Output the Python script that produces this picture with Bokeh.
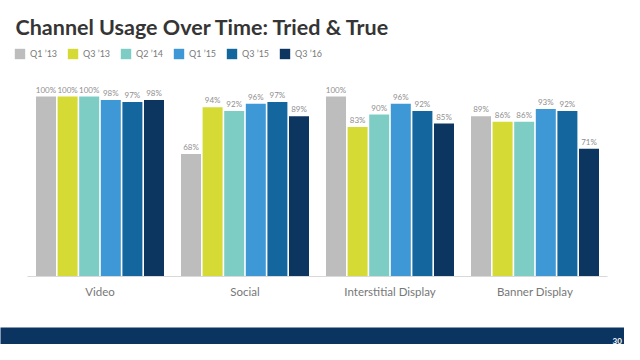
from bokeh.plotting import figure
from bokeh.models import ColumnDataSource, FactorRange, Range1d, Label, Legend, LegendItem
from bokeh.transform import dodge
from bokeh.layouts import column
from bokeh.core.properties import value
from bokeh.embed import file_html
from bokeh.resources import INLINE

# ---------------- data ----------------
categories = ["Video", "Social", "Interstitial Display", "Banner Display"]
quarters = ["Q1 \u201913", "Q3 \u201913", "Q2 \u201914", "Q1 \u201915", "Q3 \u201915", "Q3 \u201916"]
q1_13 = [100, 68, 100, 89]
q3_13 = [100, 94, 83, 86]
q2_14 = [100, 92, 90, 86]
q1_15 = [98, 96, 96, 93]
q3_15 = [97, 97, 92, 92]
q3_16 = [98, 89, 85, 71]
series = [q1_13, q3_13, q2_14, q1_15, q3_15, q3_16]
title_text = "Channel Usage Over Time:  Tried & True"
page_number = "30"

# ---------------- style ----------------
colors = ["#bdbdbd", "#d5da35", "#7ecdc5", "#3f98d6", "#13679e", "#0c3660"]
NAVY = "#0b3560"
FONT = "Lato"

W = 624
H_HEAD = 72
H_MAIN = 255
H_FOOT = 17
FRAME_L = 27
FRAME_W = 580
FRAME_H = 204
PX_PER_PCT = 1.8
GROUP_PX = FRAME_W / len(categories)
BAR_PITCH = 21.6 / GROUP_PX
BAR_W = 20.0 / GROUP_PX


def bare(fig, fill="white"):
    fig.outline_line_color = None
    fig.xgrid.grid_line_color = None
    fig.ygrid.grid_line_color = None
    fig.background_fill_color = fill
    fig.border_fill_color = fill
    fig.frame_align = False


# ---------------- header: title + legend ----------------
h = figure(
    width=W, height=H_HEAD,
    x_range=FactorRange(*categories), y_range=Range1d(0, 1),
    output_backend="svg", toolbar_location=None,
    x_axis_location=None, y_axis_location=None, min_border=0,
)
bare(h)
h.add_layout(Label(
    x=15, y=46, x_units="screen", y_units="screen",
    text=title_text, text_font=FONT, text_font_size="21.5px",
    text_font_style="bold", text_color="#353535", text_baseline="alphabetic",
))

# ---------------- main chart ----------------
p = figure(
    width=W, height=H_MAIN,
    x_range=FactorRange(*categories),
    y_range=Range1d(0, FRAME_H / PX_PER_PCT),
    output_backend="svg", toolbar_location=None,
    y_axis_location=None,
    min_border_left=FRAME_L, min_border_right=W - FRAME_L - FRAME_W,
    min_border_top=0, min_border_bottom=H_MAIN - FRAME_H,
)
bare(p)

items = []
n = len(quarters)
for i, (q, vals, c) in enumerate(zip(quarters, series, colors)):
    src = ColumnDataSource(dict(cat=categories, val=vals, lbl=[f"{v}%" for v in vals]))
    off = (i - (n - 1) / 2) * BAR_PITCH
    p.vbar(x=dodge("cat", off, range=p.x_range), top="val", width=BAR_W,
           bottom=0, source=src, fill_color=c, line_color=None)
    p.text(x=dodge("cat", off, range=p.x_range), y="val", text="lbl", source=src,
           text_align="center", text_baseline="bottom", y_offset=-2,
           text_font_size="8px", text_color="#8f8f8f", text_font=value(FONT))
    # legend swatch: same series, same style, drawn with zero height in the header
    lr = h.vbar(x=dodge("cat", off, range=h.x_range), top=0, width=BAR_W,
                bottom=0, source=src, fill_color=c, line_color=None)
    items.append(LegendItem(label=q, renderers=[lr]))

legend = Legend(
    items=items, orientation="horizontal", location=(13, H_HEAD - 60),
    glyph_width=13, glyph_height=13, label_standoff=4, label_width=30,
    label_height=13, spacing=6, padding=0, margin=0,
    border_line_color=None, background_fill_alpha=0,
    label_text_font_size="9px", label_text_color="#7a7a7a", label_text_font=FONT,
)
h.add_layout(legend)

ax = p.xaxis[0]
ax.axis_line_color = "#d9d9d9"
ax.major_tick_line_color = None
ax.minor_tick_line_color = None
ax.major_label_text_font_size = "11.5px"
ax.major_label_text_color = "#777777"
ax.major_label_text_font = FONT
ax.major_label_standoff = 2

# ---------------- footer ----------------
f = figure(
    width=W, height=H_FOOT,
    x_range=Range1d(0, W), y_range=Range1d(0, H_FOOT),
    output_backend="svg", toolbar_location=None,
    x_axis_location=None, y_axis_location=None, min_border=0,
)
bare(f, NAVY)
f.add_layout(Label(
    x=612, y=4, text=page_number, text_font=FONT,
    text_font_size="8px", text_font_style="bold", text_color="white",
    text_baseline="middle",
))

layout = column(h, p, f, spacing=0)
open("out.html", "w").write(file_html(layout, INLINE))
